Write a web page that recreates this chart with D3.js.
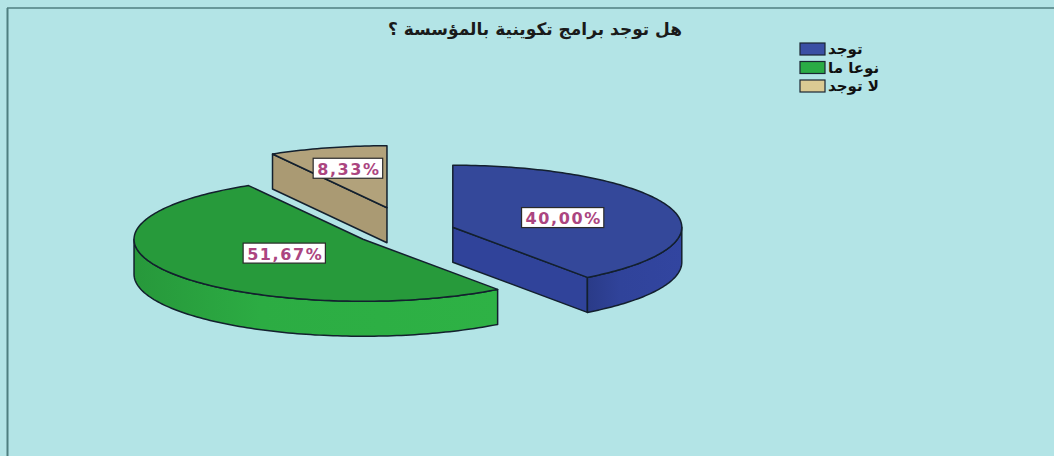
<!DOCTYPE html>
<html>
<head>
<meta charset="utf-8">
<script src="https://cdn.jsdelivr.net/npm/d3@7"></script>
<style>
  html, body { margin: 0; padding: 0; background: #b3e4e6; }
  svg { display: block; }
</style>
</head>
<body>
<svg id="chart" width="1054" height="456"></svg>
<script>
// data
const title = 'هل توجد برامج تكوينية بالمؤسسة ؟'
const categories = ['توجد', 'نوعا ما', 'لا توجد']
const values = [40.00, 51.67, 8.33]

// styling
const topColors = ['#34489a', '#279a3b', '#b2a27b']
const sideColors = ['#30439a', '#2cac43', '#aa9a73']
const legendColors = ['#3a4fa4', '#2aab45', '#dbca93']
const explode = [45, 56, 89]

const width = 1054, height = 456
const pieCenter = { x: 410, y: 231 }
const rx = 229, ry = 62, depth = 35

const svg = d3.select('#chart')

// background + frame
svg.append('rect')
    .attr('width', width).attr('height', height)
    .attr('fill', '#b3e4e6')
svg.append('line')
    .attr('x1', 7).attr('x2', width).attr('y1', 8).attr('y2', 8)
    .attr('stroke', '#4f7f80').attr('stroke-width', 1.5)
svg.append('line')
    .attr('x1', 7.5).attr('x2', 7.5).attr('y1', 8).attr('y2', height)
    .attr('stroke', '#4f7f80').attr('stroke-width', 2)

// title
svg.append('text')
    .text(title)
    .attr('x', 535)
    .attr('y', 35)
    .attr('text-anchor', 'middle')
    .attr('font-family', 'DejaVu Sans, sans-serif')
    .attr('font-weight', 'bold')
    .attr('font-size', 17)
    .attr('fill', '#1a1a1a')

const topColor = d3.scaleOrdinal().domain(categories).range(topColors)
const sideColor = d3.scaleOrdinal().domain(categories).range(sideColors)
const legendColor = d3.scaleOrdinal().domain(categories).range(legendColors)

const arcs = d3.pie().sort(null).value(d => d)(values)
const k = ry / rx

const slices = arcs.map((a, i) => {
    const mid = (a.startAngle + a.endAngle) / 2
    const c = {
        x: pieCenter.x + explode[i] * Math.sin(mid),
        y: pieCenter.y - explode[i] * k * Math.cos(mid)
    }
    return { a, i, mid, c, cat: categories[i] }
})

// point on the ellipse, angle clockwise from 12 o'clock
const pt = (c, t, dz = 0) => [c.x + rx * Math.sin(t), c.y - ry * Math.cos(t) + dz]
const arcPts = (c, t0, t1, dz = 0) => {
    const n = Math.max(2, Math.ceil((t1 - t0) / 0.02))
    return d3.range(n + 1).map(j => pt(c, t0 + (t1 - t0) * j / n, dz))
}
const line = d3.line()
const stroke = '#13202e'

// side gradients
const defs = svg.append('defs')
slices.forEach(s => {
    const g = defs.append('linearGradient')
        .attr('id', 'side' + s.i)
        .attr('x1', '0').attr('x2', '1').attr('y1', '0').attr('y2', '0')
    const base = d3.color(sideColor(s.cat))
    g.append('stop').attr('offset', '0').attr('stop-color', base.darker(0.35))
    g.append('stop').attr('offset', '0.35').attr('stop-color', base)
    g.append('stop').attr('offset', '1').attr('stop-color', base.brighter(0.1))
})

const order = slices.slice().sort((p, q) => p.c.y - q.c.y)
const g = svg.append('g')

order.forEach(s => {
    const { a, c } = s
    const grp = g.append('g')
    // cut faces facing the viewer
    const faces = []
    if (Math.sin(a.startAngle) < -1e-6) faces.push(a.startAngle)
    if (Math.sin(a.endAngle) > 1e-6) faces.push(a.endAngle)
    faces.forEach(t => {
        const p = pt(c, t)
        const poly = [[c.x, c.y], p, [p[0], p[1] + depth], [c.x, c.y + depth]]
        grp.append('path')
            .attr('d', line(poly) + 'Z')
            .attr('fill', sideColor(s.cat))
            .attr('stroke', stroke).attr('stroke-width', 1.5)
            .attr('stroke-linejoin', 'round')
    })
    // outer wall (front half only)
    const t0 = Math.max(a.startAngle, Math.PI / 2)
    const t1 = Math.min(a.endAngle, 3 * Math.PI / 2)
    if (t1 > t0) {
        const poly = arcPts(c, t0, t1).concat(arcPts(c, t0, t1, depth).reverse())
        grp.append('path')
            .attr('d', line(poly) + 'Z')
            .attr('fill', `url(#side${s.i})`)
            .attr('stroke', stroke).attr('stroke-width', 1.5)
            .attr('stroke-linejoin', 'round')
    }
    // top face
    const topPoly = [[c.x, c.y]].concat(arcPts(c, a.startAngle, a.endAngle))
    grp.append('path')
        .attr('d', line(topPoly) + 'Z')
        .attr('fill', topColor(s.cat))
        .attr('stroke', stroke).attr('stroke-width', 1.5)
        .attr('stroke-linejoin', 'round')
})

// labels at the centroid of each top face
const fmt = v => v.toFixed(2).replace('.', ',') + '%'
slices.forEach(s => {
    const half = (s.a.endAngle - s.a.startAngle) / 2
    const d = 2 * Math.sin(half) / (3 * half)
    const [lx, ly] = [s.c.x + d * rx * Math.sin(s.mid), s.c.y - d * ry * Math.cos(s.mid)]
    const lg = svg.append('g')
    const t = lg.append('text')
        .text(fmt(values[s.i]))
        .attr('x', lx + 1).attr('y', ly + 1)
        .attr('text-anchor', 'middle')
        .attr('dominant-baseline', 'central')
        .attr('font-family', 'DejaVu Sans, sans-serif')
        .attr('font-weight', 'bold')
        .attr('font-size', 16)
        .attr('letter-spacing', 1.6)
        .attr('fill', '#ab4580')
    const bb = t.node().getBBox()
    const w = bb.width + 6
    lg.insert('rect', 'text')
        .attr('x', lx - w / 2).attr('y', ly - 10)
        .attr('width', w).attr('height', 20)
        .attr('fill', 'white')
        .attr('stroke', '#2a2a2a').attr('stroke-width', 1.2)
})

// legend
const legend = svg.append('g').attr('transform', 'translate(800,43)')
const item = legend.selectAll('g')
    .data(categories)
    .join('g')
    .attr('transform', (d, i) => `translate(0, ${i * 18.5})`)
item.append('rect')
    .attr('width', 25).attr('height', 12)
    .attr('fill', d => legendColor(d))
    .attr('stroke', '#1a2633').attr('stroke-width', 1.2)
item.append('text')
    .text(d => d)
    .attr('x', 28)
    .attr('y', 11)
    .attr('font-family', 'DejaVu Sans, sans-serif')
    .attr('font-weight', 'bold')
    .attr('font-size', 15)
    .attr('fill', '#111')
</script>
</body>
</html>
